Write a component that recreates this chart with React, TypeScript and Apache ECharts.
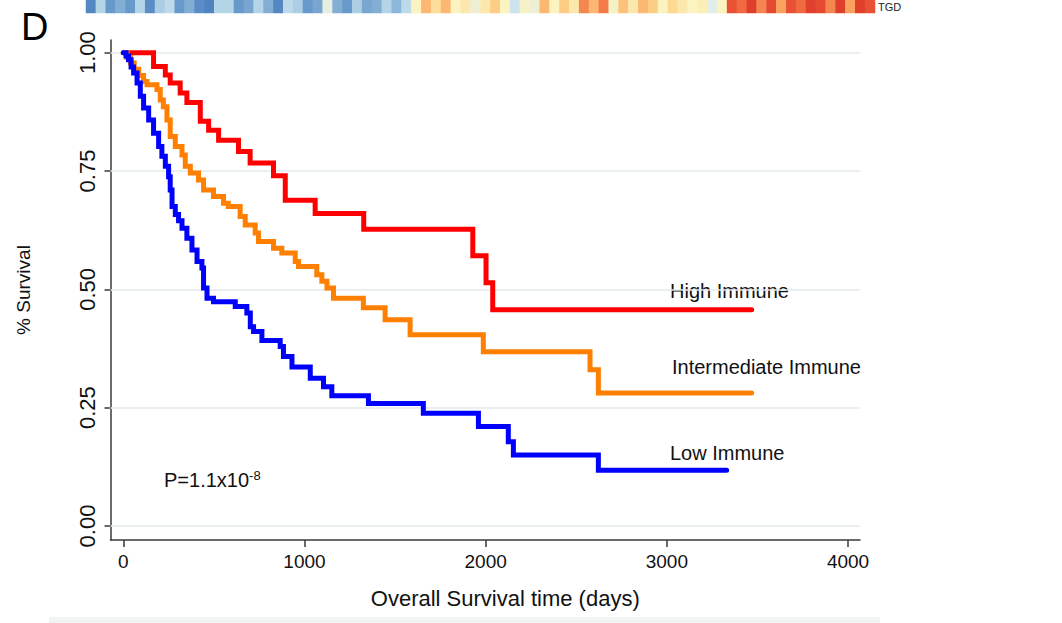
import React, { useEffect, useRef } from "react";
import * as echarts from "echarts";

const survivalTicks = [0, 0.25, 0.5, 0.75, 1];
const timeTicks = [0, 1000, 2000, 3000, 4000];

const highTime = [0, 167, 232, 259, 314, 351, 425, 471, 526, 636, 700, 829, 894, 1059, 1327, 1929, 2002, 2039, 3468];
const highSurv = [1.0, 0.971, 0.953, 0.936, 0.915, 0.895, 0.855, 0.836, 0.815, 0.791, 0.767, 0.74, 0.688, 0.66, 0.627, 0.571, 0.514, 0.457, 0.457];

const interTime = [0, 20, 40, 60, 85, 112, 131, 186, 204, 221, 241, 259, 287, 324, 342, 370, 415, 443, 498, 553, 579, 645, 673, 728, 746, 829, 875, 949, 967, 1068, 1096, 1124, 1160, 1325, 1445, 1583, 1987, 2576, 2622, 3468];
const interSurv = [1.0, 0.99, 0.978, 0.965, 0.952, 0.939, 0.932, 0.922, 0.9, 0.886, 0.858, 0.823, 0.802, 0.784, 0.76, 0.746, 0.731, 0.71, 0.696, 0.682, 0.675, 0.654, 0.636, 0.619, 0.601, 0.587, 0.577, 0.559, 0.548, 0.531, 0.517, 0.503, 0.481, 0.461, 0.436, 0.404, 0.368, 0.33, 0.281, 0.281];

const lowTime = [0, 15, 29, 43, 57, 76, 94, 112, 140, 167, 195, 213, 232, 250, 259, 269, 287, 305, 324, 351, 379, 407, 434, 443, 462, 498, 618, 682, 701, 719, 765, 866, 884, 931, 1032, 1105, 1151, 1353, 1656, 1960, 2125, 2153, 2622, 3330];
const lowSurv = [1.0, 0.993, 0.985, 0.97, 0.957, 0.936, 0.908, 0.883, 0.858, 0.83, 0.802, 0.781, 0.76, 0.738, 0.71, 0.675, 0.658, 0.645, 0.629, 0.608, 0.583, 0.559, 0.545, 0.503, 0.481, 0.474, 0.464, 0.45, 0.421, 0.411, 0.392, 0.379, 0.358, 0.336, 0.312, 0.294, 0.275, 0.259, 0.238, 0.21, 0.178, 0.15, 0.118, 0.118];

const tgdScores = [
  0.1, 0.3, 0.15, 0.2, 0.15, 0.3, 0.12, 0.28, 0.32, 0.15,
  0.2, 0.12, 0.08, 0.3, 0.3, 0.15, 0.18, 0.3, 0.2, 0.1,
  0.32, 0.28, 0.15, 0.18, 0.42, 0.2, 0.15, 0.28, 0.18, 0.2,
  0.3, 0.22, 0.32, 0.5, 0.7, 0.6, 0.7, 0.5, 0.55, 0.45,
  0.55, 0.65, 0.5, 0.35, 0.48, 0.45, 0.7, 0.5, 0.65, 0.55,
  0.8, 0.7, 0.82, 0.48, 0.68, 0.55, 0.7, 0.65, 0.5, 0.62,
  0.55, 0.5, 0.52, 0.4, 0.5, 0.9, 0.85, 0.95, 0.8, 0.92,
  0.75, 0.9, 0.85, 0.95, 0.92, 0.8, 0.95, 0.75, 0.95, 0.9,
];

const curveLabels = ["High Immune", "Intermediate Immune", "Low Immune"];
const pText = "P=1.1x10";
const pExp = "-8";

const FONT = "'Liberation Sans', Arial, Helvetica, sans-serif";

function pairs(t: number[], s: number[]) {
  return t.map((x, i) => [x, s[i]]);
}

export default function App() {
  const ref = useRef<HTMLDivElement>(null);
  useEffect(() => {
    if (!ref.current) return;
    const chart = echarts.init(ref.current, null, { renderer: "svg" });
    const axisColor = "#3a3a3a";
    const curve = (name: string, color: string, t: number[], s: number[]) => ({
      type: "line",
      name,
      data: pairs(t, s),
      step: "end",
      showSymbol: false,
      symbol: "none",
      silent: true,
      xAxisIndex: 0,
      yAxisIndex: 0,
      z: 3,
      lineStyle: { color, width: 5, cap: "round", join: "miter" },
      itemStyle: { color },
    });
    chart.setOption({
      animation: false,
      backgroundColor: "#ffffff",
      grid: [
        { left: 110.5, right: 202, top: 40, bottom: 83 },
        { left: 86, top: 0, width: 789, height: 13 },
      ],
      xAxis: [
        {
          type: "value",
          gridIndex: 0,
          min: -70.6,
          max: 4066,
          axisLine: { show: true, onZero: false, lineStyle: { color: axisColor, width: 1.5 } },
          axisTick: { show: true, customValues: timeTicks, length: 7, lineStyle: { color: axisColor, width: 1.5 } },
          axisLabel: {
            customValues: timeTicks,
            margin: 12,
            fontSize: 19,
            color: "#111",
            fontFamily: FONT,
            formatter: (v: number) => String(v),
          },
          splitLine: { show: false },
          name: "Overall Survival time (days)",
          nameLocation: "middle",
          nameGap: 47,
          nameTextStyle: { fontSize: 22, color: "#111", fontFamily: FONT, padding: [0, 0, 0, 40] },
        },
        { type: "category", gridIndex: 1, data: tgdScores.map((_, i) => i), show: false },
      ],
      yAxis: [
        {
          type: "value",
          gridIndex: 0,
          min: -0.0296,
          max: 1.0268,
          axisLine: { show: true, onZero: false, lineStyle: { color: axisColor, width: 1.5 } },
          axisTick: { show: true, customValues: survivalTicks, length: 6, lineStyle: { color: axisColor, width: 1.5 } },
          axisLabel: {
            customValues: survivalTicks,
            rotate: 90,
            margin: 12,
            fontSize: 22,
            color: "#111",
            fontFamily: FONT,
            formatter: (v: number) => v.toFixed(2),
          },
          splitLine: { show: false },
          name: "% Survival",
          nameLocation: "middle",
          nameGap: 78,
          nameTextStyle: { fontSize: 19, color: "#111", fontFamily: FONT },
        },
        { type: "category", gridIndex: 1, data: ["TGD"], show: false },
      ],
      visualMap: {
        type: "continuous",
        show: false,
        min: 0,
        max: 1,
        seriesIndex: 4,
        dimension: 2,
        inRange: {
          color: ["#3a6fb0", "#5b8ec6", "#9cc4e0", "#d9ecf2", "#fbf3c0", "#fdd890", "#fba35e", "#ee5a3a", "#d52e22"],
        },
      },
      series: [
        {
          type: "line",
          data: [],
          xAxisIndex: 0,
          yAxisIndex: 0,
          silent: true,
          z: 1,
          markLine: {
            silent: true,
            z: 1,
            symbol: ["none", "none"],
            label: { show: false },
            lineStyle: { color: "#e3eaed", width: 1.5, type: "solid" },
            data: survivalTicks.map((v) => ({ yAxis: v })),
          },
        },
        curve("High Immune", "#ff0000", highTime, highSurv),
        curve("Intermediate Immune", "#ff7f00", interTime, interSurv),
        curve("Low Immune", "#0000ff", lowTime, lowSurv),
        {
          type: "heatmap",
          xAxisIndex: 1,
          yAxisIndex: 1,
          silent: true,
          data: tgdScores.map((v, i) => [i, 0, v]),
          itemStyle: { borderWidth: 0 },
        },
      ],
      graphic: [
        { type: "text", x: 21, y: 27, style: { text: "D", fontSize: 38, fontFamily: FONT, fill: "#000", verticalAlign: "middle" } },
        { type: "text", x: 878, y: 1, style: { text: "TGD", fontSize: 11, fontFamily: FONT, fill: "#222", verticalAlign: "top" } },
        { type: "text", x: 670, y: 291, style: { text: curveLabels[0], fontSize: 20, fontFamily: FONT, fill: "#111", verticalAlign: "middle" } },
        { type: "text", x: 672, y: 367, style: { text: curveLabels[1], fontSize: 20, fontFamily: FONT, fill: "#111", verticalAlign: "middle" } },
        { type: "text", x: 670, y: 453, style: { text: curveLabels[2], fontSize: 20, fontFamily: FONT, fill: "#111", verticalAlign: "middle" } },
        {
          type: "text",
          x: 164,
          y: 480,
          style: {
            text: "{a|" + pText + "}{b|" + pExp + "}",
            fontFamily: FONT,
            fill: "#111",
            verticalAlign: "middle",
            rich: {
              a: { fontSize: 20, fontFamily: FONT, fill: "#111" },
              b: { fontSize: 13, fontFamily: FONT, fill: "#111", verticalAlign: "top", padding: [0, 0, 10, 0] },
            },
          },
        },
        { type: "rect", shape: { x: 49, y: 617, width: 831, height: 6 }, style: { fill: "#f2f3f3" } },
      ],
    });
    return () => chart.dispose();
  }, []);
  return <div ref={ref} style={{ position: "fixed", left: 0, top: 0, width: 1062, height: 623, background: "#fff" }} />;
}
